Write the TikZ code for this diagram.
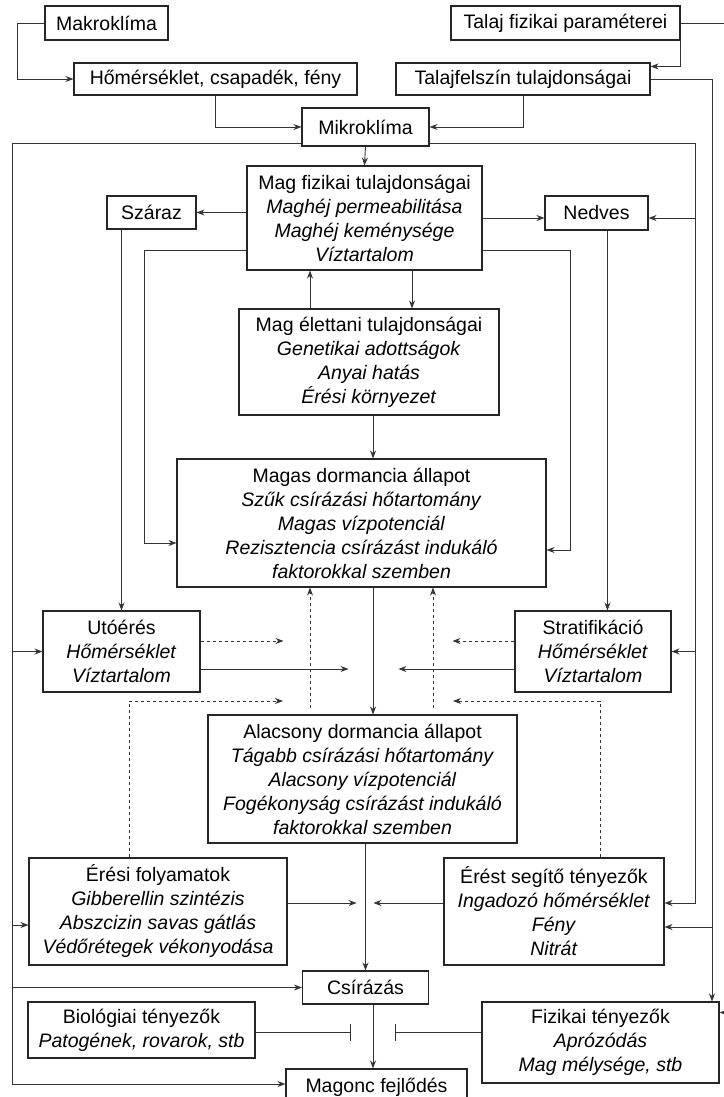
\documentclass[tikz,border=0pt]{standalone}
\usepackage{fontspec}
\setmainfont{Liberation Sans}
\usetikzlibrary{arrows.meta}
\tikzset{
  box/.style={draw=black!85,line width=1.1pt,align=center,inner sep=0pt,
    font=\fontsize{19.5}{24}\selectfont},
  line/.style={draw=black!80,line width=0.9pt},
  arr/.style={line,-{Stealth[length=8pt,width=6pt]}},
  darr/.style={arr,dash pattern=on 3.5pt off 2.5pt},
  blocker/.style={line,-{Bar[width=17pt]}}
}
\begin{document}
\begin{tikzpicture}[x=1pt,y=-1pt]
  \useasboundingbox (0,0) rectangle (723,1097);
  % Climate and soil inputs.
  \node[box,minimum width=123pt,minimum height=34pt] (makro) at (106.5,23) {Makroklíma};
  \node[box,minimum width=229pt,minimum height=34pt] (talajfiz) at (565.5,23) {Talaj fizikai paraméterei};
  \node[box,minimum width=283pt,minimum height=32pt] (homer) at (215.5,79) {Hőmérséklet, csapadék, fény};
  \node[box,minimum width=254pt,minimum height=32pt] (talajfel) at (523,79) {Talajfelszín tulajdonságai};
  \node[box,minimum width=127pt,minimum height=38pt] (mikro) at (365.5,127) {Mikroklíma};
  % Seed properties and storage.
  \node[box,minimum width=235pt,minimum height=104pt] (magfiz) at (364.5,218)
    {Mag fizikai tulajdonságai\\ \textit{Maghéj permeabilitása}\\ \textit{Maghéj keménysége}\\ \textit{Víztartalom}};
  \node[box,minimum width=89pt,minimum height=33pt] (szaraz) at (151.5,212.5) {Száraz};
  \node[box,minimum width=103pt,minimum height=34pt] (nedves) at (596.5,213) {Nedves};
  \node[box,minimum width=260pt,minimum height=106pt] (magel) at (369,362)
    {Mag élettani tulajdonságai\\ \textit{Genetikai adottságok}\\ \textit{Anyai hatás}\\ \textit{Érési környezet}};
  \node[box,minimum width=369pt,minimum height=128pt] (magas) at (361.5,523)
    {Magas dormancia állapot\\ \textit{Szűk csírázási hőtartomány}\\ \textit{Magas vízpotenciál}\\
     \textit{Rezisztencia csírázást indukáló}\\ \textit{faktorokkal szemben}};
  \node[box,minimum width=157pt,minimum height=81pt] (utoeres) at (121.5,651.5)
    {Utóérés\\ \textit{Hőmérséklet}\\ \textit{Víztartalom}};
  \node[box,minimum width=156pt,minimum height=81pt] (strat) at (593,651.5)
    {Stratifikáció\\ \textit{Hőmérséklet}\\ \textit{Víztartalom}};
  \node[box,minimum width=309pt,minimum height=128pt] (alacsony) at (362.5,779)
    {Alacsony dormancia állapot\\ \textit{Tágabb csírázási hőtartomány}\\ \textit{Alacsony vízpotenciál}\\
     \textit{Fogékonyság csírázást indukáló}\\ \textit{faktorokkal szemben}};
  \node[box,minimum width=258pt,minimum height=107pt] (eresi) at (158,911.5)
    {Érési folyamatok\\ \textit{Gibberellin szintézis}\\ \textit{Abszcizin savas gátlás}\\ \textit{Védőrétegek vékonyodása}};
  \node[box,minimum width=220pt,minimum height=107pt] (erest) at (554,911.5)
    {Érést segítő tényezők\\ \textit{Ingadozó hőmérséklet}\\ \textit{Fény}\\ \textit{Nitrát}};
  % Germination and seedling.
  \node[box,minimum width=126pt,minimum height=33pt] (csir) at (365.5,987.5) {Csírázás};
  \node[box,minimum width=227pt,minimum height=56pt] (biol) at (141.5,1030)
    {Biológiai tényezők\\ \textit{Patogének, rovarok, stb}};
  \node[box,minimum width=237pt,minimum height=81pt] (fizi) at (600.5,1042.5)
    {Fizikai tényezők\\ \textit{Aprózódás}\\ \textit{Mag mélysége, stb}};
  \node[box,minimum width=181pt,minimum height=36pt] (magonc) at (376.5,1087) {Magonc fejlődés};

  % Top connectors.
  \draw[arr] (makro.west) -- ++(-27,0) |- (homer.west);
  \draw[arr] (homer.south) |- (mikro.west);
  \draw[arr] (talajfel.south) |- (mikro.east);
  \draw[arr] (talajfiz.south east) |- ([yshift=-4pt]talajfel.north east);
  \draw[line] (talajfiz.east) -- ++(50,0);
  \draw[arr] (mikro.south) -- (magfiz.north);

  % Side rails fed by the microclimate.
  \coordinate (railL) at (12,143);
  \coordinate (railR) at (695,143);
  \coordinate (railO) at (712,79);
  \coordinate (nedvesin) at ([yshift=-5pt]nedves.east);
  \coordinate (nedvesleft) at ([yshift=-5pt]nedves.west);
  \coordinate (eresin) at ([yshift=-13.5pt]eresi.west);
  \coordinate (fenyin) at ([yshift=-15.5pt]erest.east);
  \draw[line] ([yshift=-16pt]mikro.west) -- (railL);
  \draw[arr] (railL) |- ([yshift=3pt]magonc.west);
  \draw[arr] (railL |- utoeres.west) -- (utoeres.west);
  \draw[arr] (railL |- eresin) -- (eresin);
  \draw[arr] (railL |- csir.west) -- (csir.west);
  \draw[line] ([yshift=-16pt]mikro.east) -- (railR);
  \draw[arr] (railR) |- ([yshift=8.5pt]erest.east);
  \draw[arr] (railR |- nedvesin) -- (nedvesin);
  \draw[arr] (railR |- strat.east) -- (strat.east);
  \draw[arr] (talajfel.east) -| (railO |- fizi.north);
  \draw[arr] (railO |- fenyin) -- (fenyin);
  \draw[arr] ([yshift=30pt,xshift=15pt]fizi.east) -- ([yshift=30pt]fizi.east);

  % Seed properties.
  \coordinate (upcol) at (310,0);
  \coordinate (downcol) at (412,0);
  \coordinate (midcol) at (373,0);
  \draw[arr] (magfiz.west |- szaraz.east) -- (szaraz.east);
  \draw[arr] (magfiz.east |- nedvesleft) -- (nedvesleft);
  \draw[arr] (szaraz.south -| utoeres.north) -- (utoeres.north);
  \draw[arr] ([xshift=11pt]nedves.south) -- ([xshift=11pt]nedves.south |- strat.north);
  \draw[arr] ([yshift=-32pt]magfiz.west) -- ++(-102,0) |- ([yshift=-20pt]magas.west);
  \draw[arr] ([yshift=-32pt]magfiz.east) -- ++(88,0) |- ([yshift=-27pt]magas.east);
  \draw[arr] (upcol |- magel.north) -- (upcol |- magfiz.south);
  \draw[arr] (downcol |- magfiz.south) -- (downcol |- magel.north);
  \draw[arr] (midcol |- magel.south) -- (midcol |- magas.north);

  % Dormancy release.
  \coordinate (dL) at (310,708);
  \coordinate (dR) at (433,708);
  \coordinate (dEL) at (283,701);
  \coordinate (dER) at (453,701);
  \draw[arr] (midcol |- magas.south) -- (midcol |- alacsony.north);
  \draw[darr] (dL) -- (dL |- magas.south);
  \draw[darr] (dR) -- (dR |- magas.south);
  \draw[darr] ([yshift=10.5pt]utoeres.east) -- ++(83,0);
  \draw[arr] ([yshift=-17.5pt]utoeres.east) -- ++(148,0);
  \draw[darr] ([yshift=10.5pt]strat.west) -- ++(-62,0);
  \draw[arr] ([yshift=-17.5pt]strat.west) -- ++(-116,0);
  \draw[darr] ([xshift=-29pt]eresi.north) |- (dEL);
  \draw[darr] ([xshift=46pt]erest.north) |- (dER);

  % Germination.
  \coordinate (biolout) at ([yshift=-2pt]biol.east);
  \draw[arr] (csir.north |- alacsony.south) -- (csir.north);
  \draw[arr] ([yshift=8.5pt]eresi.east) -- ++(69,0);
  \draw[arr] ([yshift=8.5pt]erest.west) -- ++(-70,0);
  \draw[arr] (midcol |- csir.south) -- (midcol |- magonc.north);
  \draw[blocker] (biolout) -- ++(95,0);
  \draw[blocker] (fizi.west |- biolout) -- ++(-86,0);
\end{tikzpicture}
\end{document}
